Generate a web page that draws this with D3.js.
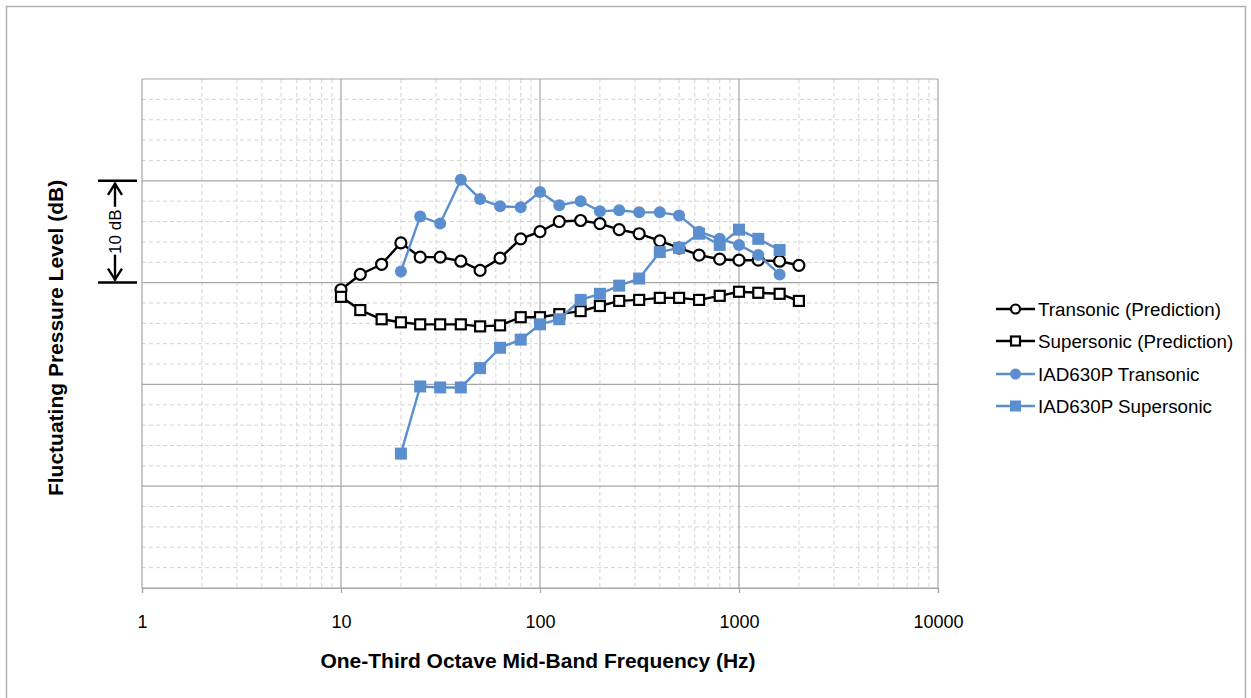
<!DOCTYPE html>
<html><head><meta charset="utf-8">
<script src="https://cdn.jsdelivr.net/npm/d3@7"></script>
<style>html,body{margin:0;padding:0;background:#fff;}svg{display:block;font-family:"Liberation Sans",Arial,sans-serif;}</style>
</head><body>
<svg id="chart" width="1251" height="698"></svg>
<script>
const freqs = [10,12.5,16,20,25,31.5,40,50,63,80,100,125,160,200,250,315,400,500,630,800,1000,1250,1600,2000];
const transonicPred = [29.3,30.8,31.8,33.9,32.5,32.5,32.1,31.2,32.4,34.3,35.0,36.0,36.1,35.8,35.2,34.8,34.1,33.4,32.7,32.3,32.2,32.2,32.1,31.7];
const supersonicPred = [28.6,27.3,26.4,26.1,25.9,25.9,25.9,25.7,25.8,26.6,26.6,26.9,27.2,27.7,28.2,28.3,28.5,28.5,28.3,28.7,29.1,29.0,28.9,28.2];
const measFreqs = [20,25,31.5,40,50,63,80,100,125,160,200,250,315,400,500,630,800,1000,1250,1600];
const iadTransonic = [31.1,36.5,35.8,40.1,38.2,37.5,37.4,38.9,37.6,38.0,37.0,37.1,36.9,36.9,36.6,35.0,34.3,33.7,32.7,30.8];
const iadSupersonic = [13.2,19.8,19.7,19.7,21.6,23.6,24.4,25.9,26.4,28.3,28.9,29.7,30.4,33.0,33.4,34.8,33.7,35.2,34.3,33.2];
const xTicks = [1,10,100,1000,10000];
const seriesNames = ["Transonic (Prediction)","Supersonic (Prediction)","IAD630P Transonic","IAD630P Supersonic"];

const svg = d3.select("#chart");
const BLUE = "#5b8ecf";
const GRID = "#a6a6a6", MINOR = "#d4d4d4";
const x = d3.scaleLog().domain([1,10000]).range([142,938]);
const y = d3.scaleLinear().domain([0,50]).range([588,79]);

// outer border
svg.append("path").attr("d","M6.5,698 V6.5 H1245.5 V698").attr("fill","none").attr("stroke","#b0b0b0").attr("stroke-width",1.5);

// minor grid
const minorX = [];
for (let d=1; d<10000; d*=10) for (let k=2;k<10;k++) minorX.push(d*k);
svg.append("g").selectAll("line").data(minorX).join("line")
  .attr("x1",d=>x(d)).attr("x2",d=>x(d)).attr("y1",y(50)).attr("y2",y(0))
  .attr("stroke",MINOR).attr("stroke-dasharray","4,3").attr("stroke-width",1);
const minorY = d3.range(0,51,2).filter(v=>v%10!==0);
svg.append("g").selectAll("line").data(minorY).join("line")
  .attr("x1",x(1)).attr("x2",x(10000)).attr("y1",d=>y(d)).attr("y2",d=>y(d))
  .attr("stroke",MINOR).attr("stroke-dasharray","4,3").attr("stroke-width",1);
// major grid
svg.append("g").selectAll("line").data(xTicks).join("line")
  .attr("x1",d=>x(d)).attr("x2",d=>x(d)).attr("y1",y(50)).attr("y2",y(0))
  .attr("stroke",GRID).attr("stroke-width",1.2);
svg.append("g").selectAll("line").data([0,10,20,30,40,50]).join("line")
  .attr("x1",x(1)).attr("x2",x(10000)).attr("y1",d=>y(d)).attr("y2",d=>y(d))
  .attr("stroke",GRID).attr("stroke-width",1.2);

// x axis
const xAxis = d3.axisBottom(x).tickValues(xTicks).tickFormat(d3.format("d")).tickSize(5).tickPadding(22);
const gx = svg.append("g").attr("transform",`translate(0,${y(0)})`).call(xAxis);
gx.select(".domain").attr("stroke",GRID).attr("stroke-width",1.2);
gx.selectAll(".tick line").attr("stroke",GRID).attr("stroke-width",1.2);
gx.selectAll(".tick text").attr("font-size",18).attr("fill","#000").attr("font-family","Liberation Sans, Arial, sans-serif");

// titles
svg.append("text").attr("x",538).attr("y",668).attr("text-anchor","middle")
  .attr("font-weight","bold").attr("font-size",21).text("One-Third Octave Mid-Band Frequency (Hz)");
svg.append("text").attr("transform","translate(63,338) rotate(-90)").attr("text-anchor","middle")
  .attr("font-weight","bold").attr("font-size",21).text("Fluctuating Pressure Level (dB)");

// 10 dB annotation
const ann = svg.append("g").attr("stroke","#000").attr("fill","none");
ann.append("line").attr("x1",98).attr("x2",137).attr("y1",y(40)).attr("y2",y(40)).attr("stroke-width",2.5);
ann.append("line").attr("x1",98).attr("x2",137).attr("y1",y(30)).attr("y2",y(30)).attr("stroke-width",2.5);
ann.append("line").attr("x1",115).attr("x2",115).attr("y1",y(40)+2).attr("y2",y(40)+26).attr("stroke-width",2.4);
ann.append("path").attr("d",`M108,${y(40)+14} L115,${y(40)+3} L122,${y(40)+14}`).attr("stroke-width",2.4);
ann.append("line").attr("x1",115).attr("x2",115).attr("y1",y(30)-2).attr("y2",y(30)-28).attr("stroke-width",2.4);
ann.append("path").attr("d",`M108,${y(30)-14} L115,${y(30)-3} L122,${y(30)-14}`).attr("stroke-width",2.4);
svg.append("text").attr("transform",`translate(121,${(y(40)+y(30))/2}) rotate(-90)`).attr("text-anchor","middle")
  .attr("font-size",17).text("10 dB");

// series
const line = d3.line().x(d=>x(d[0])).y(d=>y(d[1]));
const zipT = freqs.map((f,i)=>[f,transonicPred[i]]);
const zipS = freqs.map((f,i)=>[f,supersonicPred[i]]);
const zipIT = measFreqs.map((f,i)=>[f,iadTransonic[i]]);
const zipIS = measFreqs.map((f,i)=>[f,iadSupersonic[i]]);

function drawSeries(data,color,marker,filled){
  const g = svg.append("g");
  g.append("path").datum(data).attr("d",line).attr("fill","none").attr("stroke",color).attr("stroke-width",2.4);
  if (marker==="circle") {
    g.selectAll("circle").data(data).join("circle").attr("cx",d=>x(d[0])).attr("cy",d=>y(d[1]))
      .attr("r",filled?6:5.5).attr("fill",filled?color:"#fff").attr("stroke",color).attr("stroke-width",filled?0:2.2);
  } else {
    const s = filled?12:10;
    g.selectAll("rect").data(data).join("rect").attr("x",d=>x(d[0])-s/2).attr("y",d=>y(d[1])-s/2)
      .attr("width",s).attr("height",s).attr("fill",filled?color:"#fff").attr("stroke",color).attr("stroke-width",filled?0:2.2);
  }
}
drawSeries(zipT,"#000","circle",false);
drawSeries(zipS,"#000","square",false);
drawSeries(zipIT,BLUE,"circle",true);
drawSeries(zipIS,BLUE,"square",true);

// legend
const legY = [309,341,374,406];
const legCfg = [["#000","circle",false],["#000","square",false],[BLUE,"circle",true],[BLUE,"square",true]];
const lg = svg.append("g");
seriesNames.forEach((name,i)=>{
  const [c,m,f] = legCfg[i]; const yy = legY[i];
  lg.append("line").attr("x1",996).attr("x2",1035).attr("y1",yy).attr("y2",yy).attr("stroke",c).attr("stroke-width",2.4);
  if (m==="circle") lg.append("circle").attr("cx",1015.5).attr("cy",yy).attr("r",f?5.5:4.5).attr("fill",f?c:"#fff").attr("stroke",c).attr("stroke-width",f?0:2.2);
  else { const s=f?11:9; lg.append("rect").attr("x",1015.5-s/2).attr("y",yy-s/2).attr("width",s).attr("height",s).attr("fill",f?c:"#fff").attr("stroke",c).attr("stroke-width",f?0:2.2); }
  lg.append("text").attr("x",1038).attr("y",yy).attr("dy","0.35em").attr("font-size",18.8).text(name);
});
</script>
</body></html>
